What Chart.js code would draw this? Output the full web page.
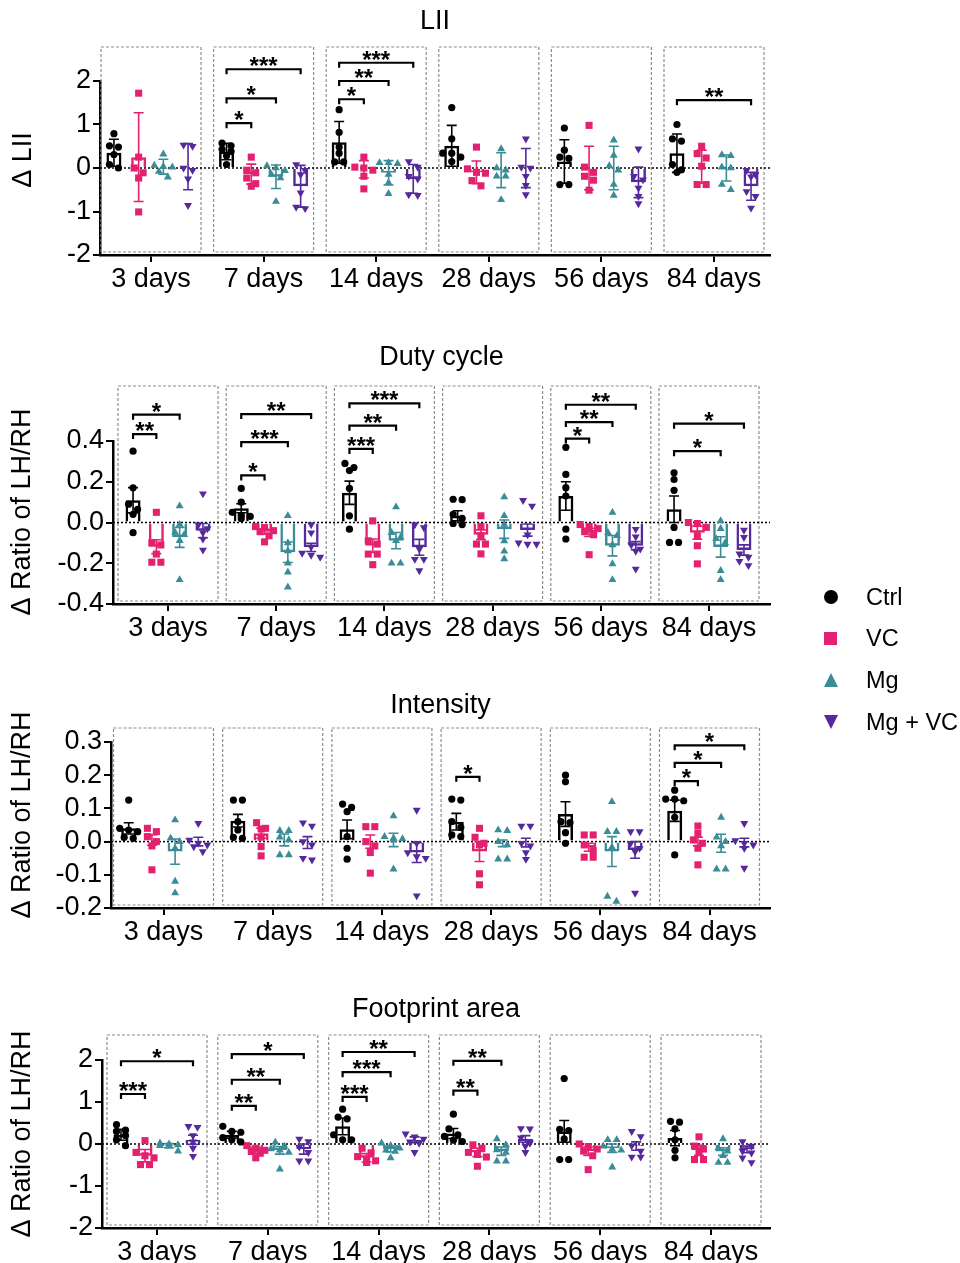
<!DOCTYPE html>
<html>
<head>
<meta charset="utf-8">
<script src="https://cdn.jsdelivr.net/npm/chart.js@4.4.1/dist/chart.umd.min.js"></script>
<style>
  body { margin: 0; background: #fff; }
  #wrap { position: relative; width: 960px; height: 1263px; overflow: hidden; }
  #wrap canvas { position: absolute; left: 0; top: 0; }
  .lg { position: absolute; left: 0; height: 0; font-family: "Liberation Sans", Arial, sans-serif; }
  .lg .sym { position: absolute; left: 824px; top: -7px; width: 14px; height: 14px; }
  .lg .txt { position: absolute; left: 866px; top: -15px; line-height: 30px; font-size: 23.5px; white-space: nowrap; color: #000; }
</style>
</head>
<body>
<div id="wrap">
  <canvas id="c0" width="960" height="1263"></canvas>
  <canvas id="c1" width="960" height="1263"></canvas>
  <canvas id="c2" width="960" height="1263"></canvas>
  <canvas id="c3" width="960" height="1263"></canvas>
</div>
<script>
const SERIES = ['Ctrl', 'VC', 'Mg', 'Mg + VC'];
const COLORS = ['#000000', '#E4216E', '#3A8C97', '#55299B'];
const SHAPES = ['circle', 'rect', 'triangle', 'triangle'];
const DAYS = ['3 days', '7 days', '14 days', '28 days', '56 days', '84 days'];

// rows = series (Ctrl, VC, Mg, Mg + VC), columns = days
const LII_TICKS = [-2, -1, 0, 1, 2];
const LII_MEAN = [
  [0.35, 0.38, 0.59, 0.51, 0.15, 0.34],
  [0.25, -0.14, -0.03, -0.1, 0.0, 0.03],
  [0.03, -0.2, -0.11, -0.05, 0.0, 0.0],
  [0.03, -0.42, -0.25, 0.0, -0.33, -0.42]
];
const LII_ERR = [
  [0.31, 0.19, 0.48, 0.47, 0.5, 0.44],
  [1.02, 0.23, 0.2, 0.26, 0.5, 0.38],
  [0.17, 0.27, 0.28, 0.4, 0.5, 0.3],
  [0.53, 0.48, 0.33, 0.45, 0.35, 0.32]
];
const LII_PTS = [
  [[0.79, 0.51, 0.48, 0.31, 0.08, 0.0], [0.57, 0.51, 0.43, 0.38, 0.28, 0.08], [1.34, 0.82, 0.48, 0.34, 0.14, 0.14],
   [1.39, 0.67, 0.34, 0.34, 0.25, 0.15], [0.92, 0.41, 0.25, 0.22, -0.38, -0.38], [1.0, 0.67, 0.62, 0.08, -0.04, -0.1]],
  [[1.72, 0.25, 0.0, -0.11, -0.23, -1.01], [0.25, -0.05, -0.11, -0.23, -0.36, -0.42], [0.25, 0.02, 0.0, -0.05, -0.19, -0.48],
   [0.48, -0.02, -0.1, -0.12, -0.29, -0.41], [0.98, 0.02, -0.1, -0.19, -0.28, -0.51], [0.5, 0.33, 0.23, 0.04, -0.38, -0.38]],
  [[0.32, 0.06, 0.03, 0.02, -0.08, -0.21], [0.05, 0.0, -0.06, -0.15, -0.23, -0.77], [0.12, 0.12, 0.1, -0.15, -0.34, -0.59],
   [0.44, 0.0, -0.05, -0.19, -0.19, -0.73], [0.64, 0.29, 0.05, -0.05, -0.38, -0.63], [0.3, 0.28, 0.02, 0.0, -0.38, -0.5]],
  [[0.53, 0.5, 0.0, -0.05, -0.25, -0.86], [0.08, -0.05, -0.15, -0.57, -0.9, -0.93], [0.15, 0.02, -0.19, -0.25, -0.61, -0.63],
   [0.67, 0.02, 0.0, -0.19, -0.4, -0.61], [0.44, -0.19, -0.27, -0.46, -0.65, -0.82], [-0.05, -0.15, -0.2, -0.54, -0.65, -0.92]]
];
// [day, from series, to series, height, label]
const LII_SIG = [
  [1, 0, 1, 1.03, '*'], [1, 0, 2, 1.6, '*'], [1, 0, 3, 2.27, '***'],
  [2, 0, 1, 1.58, '*'], [2, 0, 2, 2.0, '**'], [2, 0, 3, 2.42, '***'],
  [5, 0, 3, 1.56, '**']
];

const DUTY_TICKS = [-0.4, -0.2, 0, 0.2, 0.4];
const DUTY_MEAN = [
  [0.109, 0.07, 0.146, 0.033, 0.13, 0.065],
  [-0.119, -0.045, -0.114, -0.06, -0.049, -0.05],
  [-0.073, -0.146, -0.089, -0.033, -0.114, -0.12],
  [-0.04, -0.122, -0.122, -0.037, -0.114, -0.135]
];
const DUTY_ERR = [
  [0.062, 0.022, 0.057, 0.025, 0.07, 0.065],
  [0.034, 0.012, 0.033, 0.024, 0.02, 0.032],
  [0.049, 0.05, 0.04, 0.045, 0.05, 0.05],
  [0.035, 0.02, 0.039, 0.03, 0.02, 0.025]
];
const DUTY_PTS = [
  [[0.35, 0.17, 0.09, 0.065, 0.04, -0.05], [0.167, 0.1, 0.05, 0.035, 0.03, 0.02], [0.29, 0.27, 0.255, 0.167, 0.033, -0.033],
   [0.114, 0.112, 0.04, 0.02, -0.005, -0.01], [0.369, 0.236, 0.171, 0.13, -0.033, -0.081], [0.244, 0.211, 0.158, -0.024, -0.098, -0.098]],
  [[0.05, -0.1, -0.11, -0.155, -0.195, -0.195], [-0.02, -0.025, -0.04, -0.045, -0.065, -0.095], [0.008, -0.09, -0.106, -0.155, -0.155, -0.207],
   [0.033, -0.02, -0.065, -0.106, -0.106, -0.154], [-0.01, -0.02, -0.03, -0.045, -0.06, -0.158], [0.0, -0.005, -0.024, -0.065, -0.114, -0.203]],
  [[0.081, -0.01, -0.049, -0.06, -0.089, -0.281], [0.033, -0.1, -0.14, -0.2, -0.244, -0.317], [0.076, -0.05, -0.073, -0.089, -0.2, -0.2],
   [0.125, 0.033, -0.01, -0.09, -0.141, -0.179], [0.049, -0.05, -0.065, -0.11, -0.203, -0.281], [0.008, -0.03, -0.08, -0.1, -0.236, -0.281]],
  [[0.141, -0.01, -0.03, -0.05, -0.081, -0.135], [-0.01, -0.05, -0.12, -0.15, -0.16, -0.17], [-0.01, -0.025, -0.13, -0.18, -0.18, -0.236],
   [0.109, 0.081, -0.06, -0.1, -0.106, -0.106], [-0.033, -0.07, -0.11, -0.13, -0.14, -0.228], [-0.037, -0.073, -0.154, -0.17, -0.19, -0.211]]
];
const DUTY_SIG = [
  [0, 0, 1, 0.434, '**'], [0, 0, 2, 0.529, '*'],
  [1, 0, 1, 0.231, '*'], [1, 0, 2, 0.394, '***'], [1, 0, 3, 0.532, '**'],
  [2, 0, 1, 0.361, '***'], [2, 0, 2, 0.475, '**'], [2, 0, 3, 0.585, '***'],
  [4, 0, 1, 0.412, '*'], [4, 0, 2, 0.493, '**'], [4, 0, 3, 0.578, '**'],
  [5, 0, 2, 0.35, '*'], [5, 0, 3, 0.485, '*']
];

const INT_TICKS = [-0.2, -0.1, 0, 0.1, 0.2, 0.3];
const INT_MEAN = [
  [0.04, 0.063, 0.037, 0.06, 0.083, 0.093],
  [0.005, 0.025, 0.0, -0.03, -0.017, 0.0],
  [-0.03, 0.005, 0.005, -0.005, -0.03, -0.005],
  [0.0, -0.003, -0.033, -0.003, -0.025, -0.003]
];
const INT_ERR = [
  [0.017, 0.019, 0.028, 0.025, 0.037, 0.032],
  [0.016, 0.015, 0.02, 0.03, 0.012, 0.013],
  [0.038, 0.018, 0.02, 0.01, 0.045, 0.027],
  [0.013, 0.018, 0.03, 0.013, 0.025, 0.013]
];
const INT_PTS = [
  [[0.125, 0.04, 0.035, 0.03, 0.013, 0.01], [0.125, 0.125, 0.06, 0.035, 0.013, 0.01], [0.113, 0.103, 0.09, 0.015, -0.02, -0.053],
   [0.128, 0.125, 0.06, 0.043, 0.02, 0.015], [0.2, 0.18, 0.06, 0.057, 0.027, -0.005], [0.155, 0.128, 0.128, 0.123, 0.073, -0.04]],
  [[0.04, 0.03, 0.015, 0.0, -0.013, -0.085], [0.057, 0.04, 0.038, 0.013, -0.015, -0.043], [0.045, 0.045, 0.0, -0.013, -0.033, -0.095],
   [0.04, 0.013, -0.005, -0.01, -0.097, -0.13], [0.02, 0.02, -0.01, -0.027, -0.047, -0.047], [0.047, 0.025, 0.005, -0.005, -0.02, -0.07]],
  [[0.065, 0.01, 0.0, -0.02, -0.12, -0.155], [0.033, 0.033, 0.013, 0.005, -0.04, -0.04], [0.077, 0.015, 0.01, 0.008, 0.005, -0.083],
   [0.035, 0.033, 0.0, -0.01, -0.053, -0.053], [0.12, 0.03, 0.03, -0.017, -0.165, -0.18], [0.073, 0.013, 0.0, -0.013, -0.083, -0.083]],
  [[0.055, 0.005, -0.005, -0.01, -0.015, -0.03], [0.057, 0.047, 0.0, -0.01, -0.05, -0.055], [0.095, -0.005, -0.033, -0.045, -0.05, -0.163],
   [0.047, 0.047, -0.005, -0.013, -0.033, -0.053], [0.03, 0.03, -0.005, -0.02, -0.03, -0.155], [0.055, 0.003, -0.005, -0.01, -0.02, -0.08]]
];
const INT_SIG = [
  [3, 0, 1, 0.195, '*'],
  [5, 0, 1, 0.182, '*'], [5, 0, 2, 0.237, '*'], [5, 0, 3, 0.29, '*']
];

const FOOT_TICKS = [-2, -1, 0, 1, 2];
const FOOT_MEAN = [
  [0.22, 0.22, 0.42, 0.25, 0.3, 0.14],
  [-0.28, -0.15, -0.33, -0.2, -0.17, -0.15],
  [-0.04, -0.15, -0.12, -0.17, -0.1, -0.18],
  [0.1, -0.12, 0.1, 0.12, -0.05, -0.13]
];
const FOOT_ERR = [
  [0.13, 0.08, 0.2, 0.12, 0.26, 0.18],
  [0.15, 0.08, 0.1, 0.1, 0.1, 0.12],
  [0.05, 0.09, 0.07, 0.1, 0.1, 0.09],
  [0.11, 0.12, 0.07, 0.08, 0.1, 0.08]
];
const FOOT_PTS = [
  [[0.46, 0.33, 0.3, 0.2, 0.1, -0.04], [0.42, 0.3, 0.28, 0.15, 0.1, 0.05], [0.83, 0.64, 0.6, 0.22, 0.1, 0.1],
   [0.71, 0.36, 0.22, 0.18, 0.09, 0.06], [1.56, 0.35, 0.32, 0.12, -0.37, -0.37], [0.54, 0.52, 0.36, 0.1, -0.15, -0.33]],
  [[0.08, -0.2, -0.28, -0.33, -0.49, -0.49], [-0.04, -0.1, -0.15, -0.18, -0.22, -0.33], [-0.1, -0.21, -0.3, -0.38, -0.4, -0.44],
   [-0.02, -0.1, -0.2, -0.25, -0.31, -0.53], [0.0, -0.06, -0.12, -0.17, -0.28, -0.61], [0.17, -0.05, -0.12, -0.2, -0.37, -0.37]],
  [[0.02, 0.0, -0.02, -0.04, -0.05, -0.17], [0.04, -0.05, -0.12, -0.15, -0.2, -0.6], [0.02, -0.04, -0.1, -0.15, -0.18, -0.33],
   [0.12, -0.02, -0.14, -0.2, -0.41, -0.41], [0.1, 0.1, -0.05, -0.13, -0.15, -0.55], [0.12, -0.1, -0.17, -0.28, -0.44, -0.44]],
  [[0.42, 0.4, 0.2, 0.05, -0.1, -0.29], [0.12, 0.06, -0.07, -0.2, -0.4, -0.4], [0.24, 0.17, 0.12, 0.05, 0.02, -0.2],
   [0.37, 0.36, 0.15, 0.02, -0.05, -0.2], [0.3, 0.18, -0.04, -0.17, -0.31, -0.31], [0.06, -0.05, -0.17, -0.21, -0.33, -0.44]]
];
const FOOT_SIG = [
  [0, 0, 1, 1.19, '***'], [0, 0, 3, 1.97, '*'],
  [1, 0, 1, 0.91, '**'], [1, 0, 2, 1.53, '**'], [1, 0, 3, 2.14, '*'],
  [2, 0, 1, 1.12, '***'], [2, 0, 2, 1.71, '***'], [2, 0, 3, 2.19, '**'],
  [3, 0, 1, 1.27, '**'], [3, 0, 2, 1.98, '**']
];

const FONT = '"Liberation Sans", Arial, sans-serif';
const RIGHT = 770;

// page layout of each panel (pixels)
const panels = [
  { title: 'LII', yTitle: 'Δ LII', ticks: LII_TICKS, dec: 0, mean: LII_MEAN, err: LII_ERR, pts: LII_PTS, sig: LII_SIG,
    titleY: 22, axisX: 100, top: 81, bottom: 255, c0: 151, pitch: 112.6, gap: 24.7, boxTop: 47, yTitleX: 24, yTitleY: 160 },
  { title: 'Duty cycle', yTitle: 'Δ Ratio of LH/RH', ticks: DUTY_TICKS, dec: 1, mean: DUTY_MEAN, err: DUTY_ERR, pts: DUTY_PTS, sig: DUTY_SIG,
    titleY: 358, axisX: 113, top: 441, bottom: 604, c0: 168, pitch: 108.2, gap: 23.3, boxTop: 386, yTitleX: 23, yTitleY: 512 },
  { title: 'Intensity', yTitle: 'Δ Ratio of LH/RH', ticks: INT_TICKS, dec: 1, mean: INT_MEAN, err: INT_ERR, pts: INT_PTS, sig: INT_SIG,
    titleY: 706, axisX: 111, top: 742, bottom: 908, c0: 163.5, pitch: 109.2, gap: 23.2, boxTop: 728, yTitleX: 23, yTitleY: 815 },
  { title: 'Footprint area', yTitle: 'Δ Ratio of LH/RH', ticks: FOOT_TICKS, dec: 0, mean: FOOT_MEAN, err: FOOT_ERR, pts: FOOT_PTS, sig: FOOT_SIG,
    titleY: 1010, axisX: 102, top: 1060, bottom: 1228, c0: 157, pitch: 110.8, gap: 24, boxTop: 1035, yTitleX: 23, yTitleY: 1134 }
];

function barX(p, g, s) {
  return g + (s - 1.5) * p.gap / p.pitch;
}

// spread points of similar height side by side, like a column scatter
function spread(vals, pxPerY, pxPerX) {
  const sorted = vals.slice().sort((a, b) => b - a);
  const out = [];
  let i = 0;
  while (i < sorted.length) {
    let j = i + 1;
    while (j < sorted.length && j - i < 3 && (sorted[i] - sorted[j]) * pxPerY < 6) j++;
    const n = j - i;
    for (let k = i; k < j; k++) out.push({ dx: ((k - i) - (n - 1) / 2) * 9 / pxPerX, v: sorted[k] });
    i = j;
  }
  return out;
}

const decor = {
  id: 'decor',
  beforeDatasetsDraw(chart, args, o) {
    const { ctx, chartArea: a, scales: { x, y } } = chart;
    const p = o.panel;
    ctx.save();
    ctx.strokeStyle = '#8c8c8c';
    ctx.lineWidth = 1.2;
    ctx.setLineDash([3, 2]);
    DAYS.forEach((d, g) => {
      const xc = x.getPixelForValue(g);
      ctx.strokeRect(xc - 50, p.boxTop, 100, a.bottom - 3 - p.boxTop);
    });
    ctx.strokeStyle = '#000';
    ctx.lineWidth = 1.5;
    ctx.setLineDash([2, 2]);
    const y0 = y.getPixelForValue(0);
    ctx.beginPath();
    ctx.moveTo(a.left, y0);
    ctx.lineTo(a.right, y0);
    ctx.stroke();
    ctx.restore();
  },
  afterDatasetsDraw(chart, args, o) {
    const { ctx, scales: { x, y } } = chart;
    const p = o.panel;
    ctx.save();
    // error bars
    ctx.lineWidth = 1.6;
    p.mean.forEach((row, s) => row.forEach((m, g) => {
      const xc = x.getPixelForValue(barX(p, g, s));
      const yt = y.getPixelForValue(m + p.err[s][g]);
      const yb = y.getPixelForValue(m - p.err[s][g]);
      ctx.strokeStyle = COLORS[s];
      ctx.beginPath();
      ctx.moveTo(xc, yt); ctx.lineTo(xc, yb);
      ctx.moveTo(xc - 5, yt); ctx.lineTo(xc + 5, yt);
      ctx.moveTo(xc - 5, yb); ctx.lineTo(xc + 5, yb);
      ctx.stroke();
    }));
    // significance brackets
    ctx.strokeStyle = '#000';
    ctx.fillStyle = '#000';
    ctx.lineWidth = 2.2;
    ctx.font = 'bold 24px ' + FONT;
    ctx.textAlign = 'center';
    ctx.textBaseline = 'alphabetic';
    p.sig.forEach(([g, s1, s2, v, label]) => {
      const x1 = x.getPixelForValue(barX(p, g, s1));
      const x2 = x.getPixelForValue(barX(p, g, s2));
      const yy = y.getPixelForValue(v);
      ctx.beginPath();
      ctx.moveTo(x1, yy + 5); ctx.lineTo(x1, yy); ctx.lineTo(x2, yy); ctx.lineTo(x2, yy + 5);
      ctx.stroke();
      ctx.fillText(label, (x1 + x2) / 2, yy + 5);
    });
    // y axis title
    ctx.translate(p.yTitleX, p.yTitleY);
    ctx.rotate(-Math.PI / 2);
    ctx.font = '27px ' + FONT;
    ctx.textBaseline = 'middle';
    ctx.fillText(p.yTitle, 0, 0);
    ctx.restore();
  }
};

Chart.defaults.font.family = FONT;
Chart.defaults.color = '#000';

panels.forEach((p, idx) => {
  const yMin = p.ticks[0], yMax = p.ticks[p.ticks.length - 1];
  const pxPerY = (p.bottom - p.top) / (yMax - yMin);

  const scatterSets = SERIES.map((name, s) => ({
    type: 'scatter',
    label: name,
    order: 1,
    data: p.pts[s].flatMap((vals, g) =>
      spread(vals, pxPerY, p.pitch).map(pt => ({ x: barX(p, g, s) + pt.dx, y: pt.v }))),
    pointStyle: SHAPES[s],
    pointRotation: s === 3 ? 180 : 0,
    pointRadius: [3.6, 5, 4.6, 4.6][s],
    pointBackgroundColor: COLORS[s],
    pointBorderWidth: 0,
    clip: 8
  }));

  const barSets = SERIES.map((name, s) => ({
    type: 'bar',
    label: name,
    order: 2,
    grouped: false,
    data: p.mean[s].map((m, g) => ({ x: barX(p, g, s), y: m })),
    backgroundColor: 'rgba(0,0,0,0)',
    borderColor: COLORS[s],
    borderWidth: 2.5,
    borderSkipped: 'start',
    maxBarThickness: 15
  }));

  const axisLook = {
    grid: { display: true, offset: false, drawOnChartArea: false, drawTicks: true, tickLength: 7, color: '#000', lineWidth: 2 },
    border: { display: true, color: '#000', width: 2.5 }
  };

  new Chart(document.getElementById('c' + idx), {
    type: 'bar',
    data: { datasets: [...scatterSets, ...barSets] },
    options: {
      responsive: false,
      animation: false,
      events: [],
      layout: { padding: { left: 0, right: 960 - RIGHT, top: p.titleY - 16.2, bottom: 1263 - p.bottom - 40 } },
      plugins: {
        legend: { display: false },
        tooltip: { enabled: false },
        title: {
          display: true, text: p.title, fullSize: false, color: '#000',
          font: { size: 27, weight: 'normal' },
          padding: { top: 0, bottom: p.top - p.titleY - 16.2 }
        },
        decor: { panel: p }
      },
      scales: {
        x: {
          type: 'linear',
          offset: false,
          min: (p.axisX - p.c0) / p.pitch,
          max: (RIGHT - p.c0) / p.pitch,
          afterFit: sc => { sc.height = 40; },
          afterBuildTicks: sc => { sc.ticks = DAYS.map((d, i) => ({ value: i })); },
          ticks: { callback: v => DAYS[v], font: { size: 27 }, color: '#000', padding: 1, autoSkip: false, maxRotation: 0 },
          ...axisLook
        },
        y: {
          type: 'linear',
          min: yMin,
          max: yMax,
          afterFit: sc => { sc.width = p.axisX; },
          afterBuildTicks: sc => { sc.ticks = p.ticks.map(v => ({ value: v })); },
          ticks: { callback: v => v.toFixed(p.dec), font: { size: 27 }, color: '#000', padding: 2, autoSkip: false },
          ...axisLook
        }
      }
    },
    plugins: [decor]
  });
});

// legend
const LEGEND_Y = [597, 638, 680, 722];
const clips = ['', '', 'polygon(50% 0, 100% 100%, 0 100%)', 'polygon(0 0, 100% 0, 50% 100%)'];
const wrap = document.getElementById('wrap');
SERIES.forEach((name, s) => {
  const row = document.createElement('div');
  row.className = 'lg';
  row.style.top = LEGEND_Y[s] + 'px';
  const sym = document.createElement('span');
  sym.className = 'sym';
  sym.style.background = COLORS[s];
  if (s === 0) sym.style.borderRadius = '50%';
  if (s === 1) { sym.style.width = '13px'; sym.style.height = '13px'; sym.style.top = '-6.5px'; }
  if (clips[s]) sym.style.clipPath = clips[s];
  const txt = document.createElement('span');
  txt.className = 'txt';
  txt.textContent = name;
  row.appendChild(sym);
  row.appendChild(txt);
  wrap.appendChild(row);
});
</script>
</body>
</html>
